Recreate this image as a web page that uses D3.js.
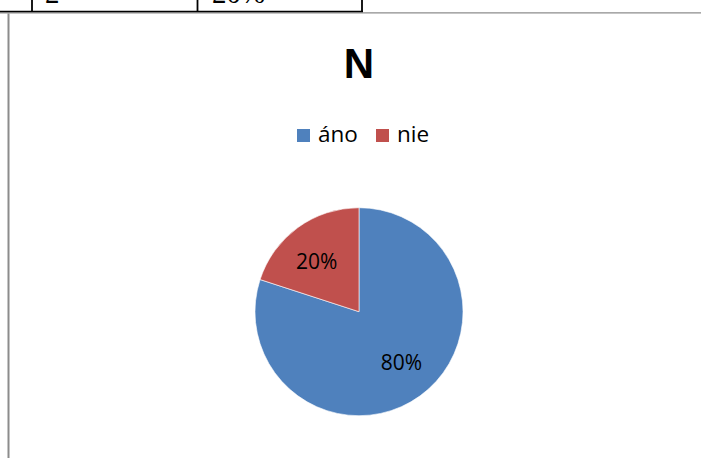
<!DOCTYPE html>
<html>
<head>
<meta charset="utf-8">
<script src="https://cdn.jsdelivr.net/npm/d3@7"></script>
<style>
html,body{margin:0;padding:0;background:#fff;}
svg{display:block;}
</style>
</head>
<body>
<svg id="chart" width="701" height="458"></svg>
<script>
const title = "N";
const categories = ["áno", "nie"];
const values = [80, 20];
const colors = ["#4F81BD", "#C0504D"];
const tableCells = ["2", "20%"];

const svg = d3.select("#chart");

// document fragment: table at top
svg.append("line").attr("x1", 0).attr("x2", 701).attr("y1", 12.8).attr("y2", 12.8)
  .attr("stroke", "#8c8c8c").attr("stroke-width", 1.2);
svg.append("line").attr("x1", 0).attr("x2", 363).attr("y1", 11.5).attr("y2", 11.5)
  .attr("stroke", "#000").attr("stroke-width", 1.5);
[32, 197.5, 362].forEach(x => {
  svg.append("line").attr("x1", x).attr("x2", x).attr("y1", 0).attr("y2", 12)
    .attr("stroke", "#000").attr("stroke-width", 1.8);
});
svg.append("line").attr("x1", 8.5).attr("x2", 8.5).attr("y1", 13.5).attr("y2", 458)
  .attr("stroke", "#8c8c8c").attr("stroke-width", 2);
const cellX = [45, 212];
tableCells.forEach((t, i) => {
  svg.append("text").attr("x", cellX[i]).attr("y", 3)
    .attr("font-family", "'Liberation Serif', 'Times New Roman', serif")
    .attr("font-size", 29).attr("fill", "#000").text(t);
});

// title
svg.append("text").attr("x", 359).attr("y", 78).attr("text-anchor", "middle")
  .attr("font-family", "'Liberation Sans', Arial, sans-serif").attr("font-weight", "bold")
  .attr("font-size", 42).attr("fill", "#000").text(title);

// legend
const legendX = [297, 376];
categories.forEach((c, i) => {
  const g = svg.append("g").attr("transform", `translate(${legendX[i]},129)`);
  g.append("rect").attr("width", 13).attr("height", 13).attr("fill", colors[i]);
  g.append("text").attr("x", 21).attr("y", 13)
    .attr("font-family", "'Open Sans', sans-serif").attr("font-size", 22.5)
    .attr("fill", "#000").text(c);
});

// pie
const cx = 359, cy = 311.7, r = 104;
const pie = d3.pie().sort(null).value(d => d);
const arc = d3.arc().innerRadius(0).outerRadius(r);
const labelR = 66;
const total = d3.sum(values);
const pg = svg.append("g").attr("transform", `translate(${cx},${cy})`);
const arcs = pie(values);
pg.selectAll("path").data(arcs).join("path")
  .attr("d", arc).attr("fill", (d, i) => colors[i])
  .attr("stroke", "#fff").attr("stroke-width", 0.6);
pg.selectAll("text").data(arcs).join("text")
  .attr("transform", d => {
    const a = (d.startAngle + d.endAngle) / 2 - 0.07;
    return `translate(${labelR * Math.sin(a)},${-labelR * Math.cos(a)})`;
  })
  .attr("text-anchor", "middle").attr("dy", "0.36em")
  .attr("font-family", "'Open Sans', sans-serif").attr("font-size", 21)
  .attr("fill", "#000")
  .text(d => Math.round(d.data / total * 100) + "%");
</script>
</body>
</html>
